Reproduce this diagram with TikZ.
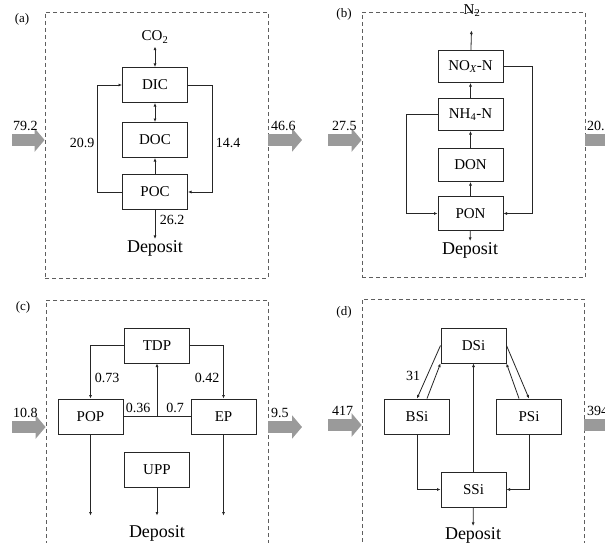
\documentclass[tikz,border=0pt]{standalone}
\usepackage{fontspec}
\setmainfont{Liberation Serif}
\usetikzlibrary{positioning,arrows.meta}
\definecolor{flowgray}{HTML}{9A9A9A}
\definecolor{framegray}{HTML}{5E5E5E}

\begin{document}
\begin{tikzpicture}[
x=1pt, y=-1pt,
font=\fontsize{15}{17}\selectfont,
pool/.style={draw=black!85, line width=1pt, minimum width=65pt, minimum height=35pt, inner sep=1pt},
frame/.style={draw=framegray, dash pattern=on 4pt off 3pt, line width=0.8pt, inner sep=0pt},
arr/.style={-{Latex[length=3.5pt,width=3pt]}, line width=0.8pt, black!85},
dbl/.style={{Latex[length=3.5pt,width=3pt]}-{Latex[length=3.5pt,width=3pt]}, line width=0.8pt, black!85},
flow/.style={line width=12pt, flowgray, -{Triangle[length=10pt,width=23pt]}},
num/.style={font=\fontsize{14}{16}\selectfont, inner sep=1pt},
tag/.style={font=\fontsize{13}{15}\selectfont, inner sep=1pt},
sink/.style={font=\fontsize{18}{20}\selectfont, inner sep=1pt},
node distance=16pt
]
\useasboundingbox (0,0) rectangle (605,543);
\clip (0,0) rectangle (605,543);
\fill[white] (0,0) rectangle (605,543);

% (a) carbon
\node[frame, minimum width=223pt, minimum height=266pt] (fa) at (156.5,145) {};
\node[tag] (taga) at (22,19) {(a)};
\node[pool] (dic) at (155,85) {DIC};
\node[pool, below=19pt of dic] (doc) {DOC};
\node[pool, below=of doc] (poc) {POC};
\node (co2) at (155,37) {CO\textsubscript{2}};
\node[sink] (depa) at (155,248) {Deposit};
\draw[dbl] (co2) -- (dic);
\draw[dbl] (dic) -- (doc);
\draw[arr] (poc) -- (doc);
\draw[arr] (poc.west) -- ++(-25,0) |- (dic.west);
\draw[arr] (dic.east) -- ++(24,0) |- (poc.east);
\draw[arr] (poc) -- (depa);
\node[num] (ca1) at (82,143) {20.9};
\node[num] (ca2) at (228,143) {14.4};
\node[num] (ca3) at (172,220) {26.2};
\coordinate (ina) at (12,140);
\coordinate (outa) at (302,140);
\draw[flow] (ina) -- (ina -| fa.west);
\draw[flow] (outa -| fa.east) -- (outa);
\node[num, anchor=south west] (lina) at (12,132) {79.2};
\node[num, anchor=south west] (louta) at (270,132) {46.6};

% (b) nitrogen
\node[frame, minimum width=223pt, minimum height=265pt] (fb) at (473.5,145) {};
\node[tag] (tagb) at (344,14) {(b)};
\node[pool, minimum height=32pt] (noxn) at (470.5,66.5) {NO\textsubscript{\itshape X}-N};
\node[pool, minimum height=32pt, below=15pt of noxn] (nh4n) {NH\textsubscript{4}-N};
\node[pool, minimum height=33pt, below=17pt of nh4n] (don) {DON};
\node[pool, minimum height=34pt, below=14pt of don] (pon) {PON};
\node (n2) at (472,11) {N\textsubscript{2}};
\node[sink] (depb) at (470,250) {Deposit};
\draw[arr, shorten >=10pt] (noxn) -- (n2);
\draw[arr] (nh4n) -- (noxn);
\draw[arr] (don) -- (nh4n);
\draw[arr] (pon) -- (don);
\draw[arr] (nh4n.west) -- ++(-31,0) |- (pon.west);
\draw[arr] (noxn.east) -- ++(29,0) |- (pon.east);
\draw[arr] (pon) -- (depb);
\coordinate (inb) at (328,140);
\coordinate (outb) at (619,140);
\draw[flow] (inb) -- (inb -| fb.west);
\draw[flow] (outb -| fb.east) -- (outb);
\node[num, anchor=south west] (linb) at (331,132) {27.5};
\node[num, anchor=south west] (loutb) at (586,132) {20.9};

% (c) phosphorus
\node[frame, minimum width=222pt, minimum height=260pt] (fc) at (157,430) {};
\node[tag] (tagc) at (23,307) {(c)};
\node[pool] (tdp) at (157,345.5) {TDP};
\node[pool] (pop) at (90.5,416.5) {POP};
\node[pool] (ep) at (223.5,416.5) {EP};
\node[pool] (upp) at (157,469.5) {UPP};
\node[sink] (depc) at (157,533) {Deposit};
\draw[arr] (tdp.west) -| (pop.north);
\draw[arr] (tdp.east) -| (ep.north);
\draw[black!85, line width=0.8pt] (pop.east) -- coordinate (pmid) (ep.west);
\draw[arr] (pmid -| tdp.south) -- (tdp.south);
\draw[arr] (pop.south) -- ++(0,81);
\draw[arr] (upp.south) -- ++(0,28);
\draw[arr] (ep.south) -- ++(0,81);
\node[num] (cc1) at (107,378) {0.73};
\node[num] (cc2) at (207,378) {0.42};
\node[num] (cc3) at (138,408) {0.36};
\node[num] (cc4) at (175,408) {0.7};
\coordinate (inc) at (12,427);
\coordinate (outc) at (302,427);
\draw[flow] (inc) -- (inc -| fc.west);
\draw[flow] (outc -| fc.east) -- (outc);
\node[num, anchor=south west] (linc) at (12,419) {10.8};
\node[num, anchor=south west] (loutc) at (270,419) {9.5};

% (d) silicon
\node[frame, minimum width=222pt, minimum height=262pt] (fd) at (473,430) {};
\node[tag] (tagd) at (344,312) {(d)};
\node[pool] (dsi) at (473.5,345.5) {DSi};
\node[pool] (bsi) at (417,416.5) {BSi};
\node[pool] (psi) at (529,416.5) {PSi};
\node[pool] (ssi) at (473.5,489.5) {SSi};
\node[sink] (depd) at (473,535) {Deposit};
\draw[arr] (dsi.west) -- (bsi.north);
\draw[arr] ([xshift=10pt]bsi.north) -- (dsi.south west);
\draw[arr] (dsi.east) -- (psi.north);
\draw[arr] ([xshift=-10pt]psi.north) -- (dsi.south east);
\draw[arr] (ssi) -- (dsi);
\draw[arr] (bsi.south) |- (ssi.west);
\draw[arr] (psi.south) |- (ssi.east);
\draw[arr] (ssi) -- (depd);
\node[num] (cd1) at (413,376) {31};
\coordinate (ind) at (328,425);
\coordinate (outd) at (618,425);
\draw[flow] (ind) -- (ind -| fd.west);
\draw[flow] (outd -| fd.east) -- (outd);
\node[num, anchor=south west] (lind) at (331,417) {417};
\node[num, anchor=south west] (loutd) at (586,417) {394};
\end{tikzpicture}
\end{document}
